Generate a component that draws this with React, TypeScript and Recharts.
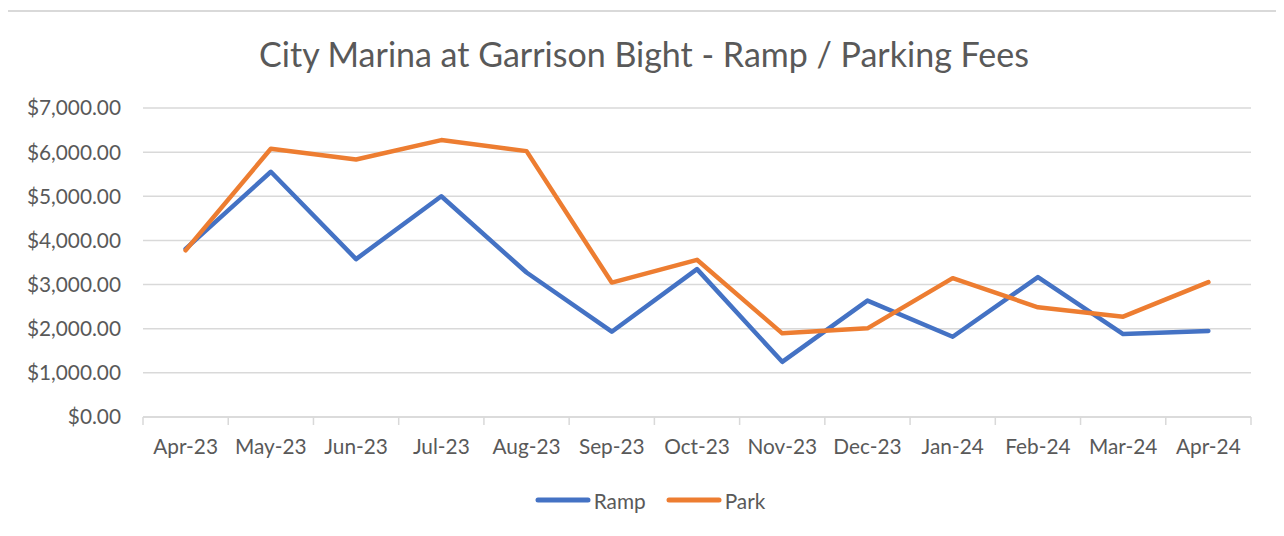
import React from "react";
import { LineChart, Line, XAxis, YAxis, CartesianGrid, Legend } from "recharts";

const months = ["Apr-23", "May-23", "Jun-23", "Jul-23", "Aug-23", "Sep-23", "Oct-23", "Nov-23", "Dec-23", "Jan-24", "Feb-24", "Mar-24", "Apr-24"];
const ramp = [3810, 5555, 3577, 5000, 3273, 1932, 3350, 1250, 2636, 1818, 3168, 1880, 1948];
const park = [3775, 6077, 5834, 6273, 6023, 3045, 3561, 1895, 2009, 3145, 2486, 2273, 3055];
const yTicks = [0, 1000, 2000, 3000, 4000, 5000, 6000, 7000];
const title = "City Marina at Garrison Bight - Ramp / Parking Fees";

const data = months.map((m, i) => ({ month: m, Ramp: ramp[i], Park: park[i] }));

const FONT = "Lato, 'Open Sans', sans-serif";
const TEXT = "#595959";
const GRID = "#d9d9d9";
const W = 1272;
const H = 530;
const FS = 20.8;
const margin = { top: 96, right: 29, left: 15, bottom: 27 };
const plotW = W - margin.left - 120 - margin.right;
const step = plotW / months.length;

const fmt = (v: number) => "$" + v.toLocaleString("en-US", { minimumFractionDigits: 2, maximumFractionDigits: 2 });

const XTick = (props: any) => {
  const { x, y, payload, index } = props;
  return (
    <g>
      <line x1={x - step / 2} x2={x - step / 2} y1={y} y2={y + 8} stroke={GRID} strokeWidth={1.5} />
      {index === months.length - 1 && (
        <line x1={x + step / 2} x2={x + step / 2} y1={y} y2={y + 8} stroke={GRID} strokeWidth={1.5} />
      )}
      <text x={x} y={y + 37} textAnchor="middle" fill={TEXT} fontSize={FS} fontFamily={FONT}>
        {payload.value}
      </text>
    </g>
  );
};

const LegendContent = () => (
  <div style={{ display: "flex", justifyContent: "center", alignItems: "center", height: 30, paddingLeft: 12, fontFamily: FONT, fontSize: FS, color: TEXT }}>
    {[
      { name: "Ramp", color: "#4472C4" },
      { name: "Park", color: "#ED7D31" },
    ].map((it, i) => (
      <div key={it.name} style={{ display: "flex", alignItems: "center", marginLeft: i === 0 ? 0 : 20 }}>
        <svg width={56} height={10} style={{ marginRight: 3 }}>
          <line x1={3} x2={53} y1={5} y2={5} stroke={it.color} strokeWidth={5} strokeLinecap="round" />
        </svg>
        <span>{it.name}</span>
      </div>
    ))}
  </div>
);

export default function App() {
  return (
    <div style={{ position: "relative", marginLeft: -2, marginTop: 2, width: W, height: H, border: `2px solid ${GRID}`, background: "#fff" }}>
      <div style={{ position: "absolute", top: 21, left: 0, width: W, textAlign: "center", fontFamily: FONT, fontSize: 34, color: TEXT }}>
        {title}
      </div>
      <LineChart width={W} height={H} data={data} margin={margin}>
        <CartesianGrid vertical={false} stroke={GRID} strokeWidth={1.5} />
        <XAxis
          dataKey="month"
          padding={{ left: step / 2, right: step / 2 }}
          tickLine={false}
          tickSize={0}
          tickMargin={0}
          axisLine={{ stroke: GRID, strokeWidth: 1.5 }}
          height={68}
          interval={0}
          tick={<XTick />}
        />
        <YAxis
          domain={[0, 7000]}
          ticks={yTicks}
          width={120}
          axisLine={false}
          tickLine={false}
          tickSize={0}
          tickMargin={22}
          tickFormatter={fmt}
          tick={{ fill: TEXT, fontSize: FS, fontFamily: FONT }}
        />
        <Legend verticalAlign="bottom" height={30} content={<LegendContent />} wrapperStyle={{ left: 0, width: W }} />
        <Line dataKey="Ramp" stroke="#4472C4" strokeWidth={4.5} dot={false} strokeLinejoin="round" strokeLinecap="round" isAnimationActive={false} />
        <Line dataKey="Park" stroke="#ED7D31" strokeWidth={4.5} dot={false} strokeLinejoin="round" strokeLinecap="round" isAnimationActive={false} />
      </LineChart>
    </div>
  );
}
